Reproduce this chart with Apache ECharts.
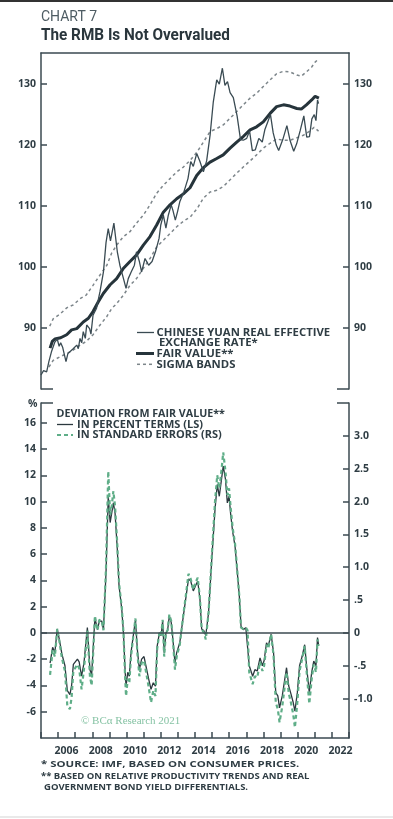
<!DOCTYPE html>
<html><head><meta charset="utf-8">
<script src="https://cdn.jsdelivr.net/npm/echarts@6/dist/echarts.min.js"></script>
<style>html,body{margin:0;padding:0;background:#fff}#c{width:393px;height:819px}</style>
</head><body><div id="c"></div>
<script>
// ---- Top panel: REER, fair value, sigma bands (decimal years) ----
const reerDates = [2005.0,2005.15,2005.33,2005.46,2005.61,2005.81,2005.95,2006.06,2006.15,2006.27,2006.46,2006.57,2006.69,2006.88,2007.09,2007.18,2007.28,2007.38,2007.47,2007.59,2007.67,2007.84,2007.92,2008.04,2008.24,2008.45,2008.65,2008.80,2008.93,2009.06,2009.26,2009.46,2009.61,2009.82,2009.97,2010.10,2010.27,2010.46,2010.58,2010.75,2010.88,2011.08,2011.29,2011.49,2011.69,2011.90,2012.00,2012.15,2012.30,2012.44,2012.61,2012.71,2012.85,2012.98,2013.11,2013.36,2013.59,2013.75,2013.90,2014.10,2014.29,2014.49,2014.68,2014.88,2015.07,2015.27,2015.42,2015.60,2015.75,2015.90,2016.05,2016.24,2016.46,2016.66,2016.82,2017.02,2017.19,2017.35,2017.52,2017.73,2017.93,2018.08,2018.25,2018.41,2018.57,2018.75,2018.89,2019.13,2019.37,2019.56,2019.77,2019.94,2020.15,2020.36,2020.53,2020.69,2020.83,2020.97,2021.07,2021.16,2021.22];
const reerValues = [82.3,83.0,82.8,84.5,86.1,87.7,88.2,87.0,87.6,86.8,84.5,85.8,86.1,86.6,87.2,86.6,88.3,87.6,89.4,88.3,90.5,89.9,89.0,92.1,93.2,96.0,99.2,104.0,106.3,104.3,107.2,102.5,100.3,98.1,96.5,98.1,99.2,100.3,102.5,100.9,99.2,101.4,100.3,100.9,102.5,104.7,106.9,108.5,106.4,108.5,110.2,109.3,107.7,109.1,110.7,112.4,114.5,117.3,116.5,118.6,117.3,115.6,117.4,121.6,127.1,130.7,130.0,132.6,129.8,130.4,128.6,127.8,124.8,120.9,120.8,121.1,122.3,119.1,119.2,121.1,120.5,122.5,123.8,125.0,122.0,120.0,119.1,120.9,123.2,120.7,119.0,120.2,122.4,124.8,121.3,121.4,124.3,125.0,124.0,127.4,126.8];

const fairDates = [2005.53,2005.66,2005.81,2006.15,2006.50,2006.79,2007.09,2007.47,2007.77,2008.04,2008.35,2008.65,2009.04,2009.42,2009.82,2010.20,2010.59,2010.98,2011.37,2011.76,2012.15,2012.54,2012.93,2013.32,2013.71,2014.10,2014.49,2014.88,2015.27,2015.65,2016.05,2016.44,2016.82,2017.22,2017.60,2017.99,2018.39,2018.77,2019.17,2019.55,2019.95,2020.21,2020.51,2020.82,2021.02,2021.24];
const fairValues = [86.7,87.8,88.2,88.4,88.9,89.7,89.9,91.0,91.6,92.7,94.3,95.7,97.1,98.1,99.8,100.9,102.0,103.6,105.0,106.9,109.0,110.2,111.2,112.0,113.0,115.0,116.3,117.2,117.8,118.4,119.5,120.5,121.4,122.5,123.0,123.8,125.2,126.3,126.6,126.4,126.0,125.9,126.6,127.4,128.0,127.7];

const upperDates = [2005.51,2005.71,2006.12,2006.50,2006.89,2007.28,2007.64,2008.04,2008.45,2008.85,2009.13,2009.42,2009.82,2010.20,2010.58,2010.98,2011.37,2011.76,2012.15,2012.54,2012.93,2013.32,2013.72,2014.13,2014.49,2014.88,2015.27,2015.65,2016.05,2016.44,2016.82,2017.22,2017.60,2017.99,2018.39,2018.77,2019.17,2019.55,2019.95,2020.21,2020.51,2020.82,2021.02,2021.17];
const upperValues = [90.3,91.5,92.3,93.3,93.8,94.8,95.4,97.0,98.7,100.3,102.3,103.6,105.0,105.8,107.2,108.5,110.2,112.1,113.4,114.5,115.6,116.4,117.5,118.9,120.5,122.2,122.7,123.3,124.4,125.5,126.6,127.7,128.5,129.6,130.7,131.7,132.1,132.0,131.5,131.3,132.0,132.8,133.6,134.0];

const lowerDates = [2005.46,2005.71,2006.12,2006.50,2006.89,2007.28,2007.64,2008.04,2008.45,2008.85,2009.13,2009.42,2009.82,2010.20,2010.58,2010.98,2011.37,2011.76,2012.15,2012.54,2012.93,2013.32,2013.72,2014.13,2014.49,2014.88,2015.27,2015.65,2016.05,2016.44,2016.82,2017.22,2017.60,2017.99,2018.39,2018.77,2019.17,2019.55,2019.95,2020.33,2020.71,2020.96,2021.22];
const lowerValues = [83.6,84.7,85.3,85.8,86.4,87.2,87.8,88.9,90.5,91.9,93.2,94.0,95.4,97.0,98.1,99.8,101.4,103.3,104.4,105.5,106.6,107.5,108.2,109.6,111.3,112.3,112.6,113.2,114.3,115.4,116.4,117.4,118.4,119.5,120.3,121.0,120.8,120.8,121.2,121.6,122.3,122.9,122.3];

// ---- Bottom panel: deviation from fair value ----
const devDates = [2005.53,2005.68,2005.81,2005.95,2006.07,2006.22,2006.31,2006.40,2006.54,2006.69,2006.79,2006.89,2006.99,2007.13,2007.23,2007.37,2007.51,2007.71,2007.86,2007.96,2008.15,2008.30,2008.41,2008.55,2008.65,2008.80,2008.93,2009.04,2009.13,2009.23,2009.33,2009.46,2009.56,2009.72,2009.82,2009.92,2009.97,2010.07,2010.16,2010.26,2010.39,2010.52,2010.63,2010.75,2010.88,2011.02,2011.13,2011.29,2011.43,2011.56,2011.69,2011.79,2011.92,2012.02,2012.11,2012.20,2012.30,2012.40,2012.50,2012.61,2012.71,2012.83,2012.93,2013.11,2013.32,2013.48,2013.62,2013.75,2013.90,2014.02,2014.16,2014.29,2014.39,2014.53,2014.63,2014.79,2014.98,2015.17,2015.30,2015.42,2015.55,2015.65,2015.78,2015.89,2015.99,2016.08,2016.20,2016.34,2016.46,2016.59,2016.69,2016.82,2016.97,2017.07,2017.17,2017.27,2017.37,2017.50,2017.64,2017.80,2017.94,2018.04,2018.18,2018.28,2018.45,2018.59,2018.72,2018.84,2018.94,2019.10,2019.25,2019.35,2019.48,2019.62,2019.74,2019.84,2019.98,2020.11,2020.26,2020.41,2020.54,2020.68,2020.82,2020.94,2021.07,2021.16,2021.22];
const devPercent = [-2.3,-1.1,-1.5,0.3,-0.5,-1.6,-1.5,-2.5,-4.4,-4.7,-4.0,-2.4,-2.5,-2.0,-2.2,-3.3,-2.3,0.4,-2.8,-3.2,1.15,0.25,0.9,0.9,0.25,4.6,10.4,8.4,9.1,9.9,9.1,6.35,3.6,1.8,0,-3.0,-4.05,-3.0,-3.3,-1.5,-0.25,1.0,-1.25,-2.8,-2.0,-1.8,-2.5,-3.5,-4.3,-3.8,-4.05,-1.0,0,-0.2,0.9,-1.5,0,0.2,1.3,0.8,-0.5,-2.3,-1.5,-0.75,1.3,2.8,4.1,3.95,3.2,3.55,3.95,2.55,0.3,0.15,-0.2,1.5,5.6,9.4,11.3,10.4,11.7,12.7,11.7,9.9,10.4,9.1,7.7,6.6,4.8,2.8,0.5,0.25,0.4,0.25,-2.5,-2.5,-3.3,-2.8,-2.9,-1.9,-2.5,-2.1,-0.75,-1.0,-0.1,-1.5,-4.55,-4.8,-5.7,-4.8,-3.5,-2.65,-4.05,-4.7,-5.3,-5.95,-4.55,-2.5,-1.8,-0.9,-2.8,-4.55,-3.0,-2.15,-2.5,-0.35,-0.9];
const devStdErr = [-0.64,-0.26,-0.36,0.06,-0.12,-0.38,-0.36,-0.58,-1.12,-1.16,-0.98,-0.58,-0.60,-0.48,-0.54,-0.86,-0.56,0.04,-0.66,-0.80,0.26,0.04,0.20,0.18,0.04,1.00,2.46,1.80,1.92,2.16,1.92,1.34,0.76,0.38,0,-0.70,-0.96,-0.70,-0.76,-0.36,-0.06,0.22,-0.30,-0.66,-0.46,-0.42,-0.58,-0.82,-1.06,-0.88,-0.96,-0.24,0,-0.04,0.20,-0.36,0,0.04,0.28,0.18,-0.12,-0.56,-0.36,-0.18,0.28,0.60,0.90,0.82,0.66,0.76,0.84,0.52,0.06,0,-0.10,0.30,1.16,2.00,2.40,2.20,2.48,2.75,2.46,2.10,2.20,1.92,1.60,1.36,0.98,0.56,0.08,0.06,0.08,0.04,-0.60,-0.60,-0.78,-0.66,-0.68,-0.44,-0.58,-0.50,-0.18,-0.24,-0.02,-0.34,-1.06,-1.16,-1.36,-1.12,-0.80,-0.60,-0.92,-1.08,-1.24,-1.44,-1.06,-0.58,-0.40,-0.20,-0.64,-1.08,-0.70,-0.48,-0.60,-0.10,-0.20];

// ---- Tick labels ----
const topTicks = [90, 100, 110, 120, 130];
const devLeftTicks = [-6, -4, -2, 0, 2, 4, 6, 8, 10, 12, 14, 16];
const devRightTicks = [-1, -0.5, 0, 0.5, 1, 1.5, 2, 2.5, 3];
const xLabelYears = [2006, 2008, 2010, 2012, 2014, 2016, 2018, 2020, 2022];

const zip = (xs, ys) => xs.map((x, i) => [x, ys[i]]);

const INK = '#2f3d44';
const AXIS = '#3b4a51';
const GREEN = '#5fae88';
const FONT = '"Open Sans", sans-serif';
const lab = {color: INK, fontFamily: FONT, fontWeight: 700, fontSize: 10.5};

function rightFmt(v) {
  if (v === 0) return '0';
  if (Math.abs(v) < 1) return (v < 0 ? '-' : '') + '.5';
  return v.toFixed(1);
}

const yAx = (grid, pos, min, max, ticks, fmt) => ({
  gridIndex: grid, type: 'value', position: pos, min: min, max: max,
  axisLine: {show: true, onZero: false, lineStyle: {color: AXIS, width: 1.5}},
  axisTick: {show: true, inside: true, length: 6, customValues: ticks, lineStyle: {color: AXIS, width: 1.5}},
  axisLabel: Object.assign({customValues: ticks, margin: 5, formatter: fmt}, lab),
  splitLine: {show: false}
});

const chart = echarts.init(document.getElementById('c'), null, {renderer: 'canvas'});

const legendFont = 'bold 11px ' + FONT;
const noteFont = 'bold 9.5px ' + FONT;

const option = {
  backgroundColor: '#ffffff',
  animation: false,
  grid: [
    {left: 41, top: 53, width: 308, height: 336},
    {left: 41, top: 403, width: 308, height: 335}
  ],
  xAxis: [
    {gridIndex: 0, type: 'value', min: 2005, max: 2023, position: 'top',
     axisLine: {show: true, onZero: false, lineStyle: {color: AXIS, width: 1.5}},
     axisTick: {show: false}, axisLabel: {show: false}, splitLine: {show: false}},
    {gridIndex: 1, type: 'value', min: 2005, max: 2023, interval: 1, position: 'bottom',
     axisLine: {show: true, onZero: false, lineStyle: {color: AXIS, width: 1.5}},
     axisTick: {show: true, inside: true, length: 6, lineStyle: {color: AXIS, width: 1.5}},
     axisLabel: Object.assign({customValues: xLabelYears, margin: 8, padding: [0, 0, 0, 17], formatter: v => String(v)}, lab),
     splitLine: {show: false}}
  ],
  yAxis: [
    yAx(0, 'left', 80, 135.1, topTicks, v => String(v)),
    yAx(0, 'right', 80, 135.1, topTicks, v => String(v)),
    yAx(1, 'left', -8, 17.5, devLeftTicks, v => String(v)),
    yAx(1, 'right', -1.6, 3.5, devRightTicks, rightFmt)
  ],
  series: [
    {name: 'Upper band', type: 'line', xAxisIndex: 0, yAxisIndex: 0, data: zip(upperDates, upperValues),
     showSymbol: false, lineStyle: {color: '#7d868b', width: 1.5, type: [3, 3]}},
    {name: 'Lower band', type: 'line', xAxisIndex: 0, yAxisIndex: 0, data: zip(lowerDates, lowerValues),
     showSymbol: false, lineStyle: {color: '#7d868b', width: 1.5, type: [3, 3]}},
    {name: 'Fair value', type: 'line', xAxisIndex: 0, yAxisIndex: 0, data: zip(fairDates, fairValues),
     showSymbol: false, lineStyle: {color: '#26343b', width: 3}},
    {name: 'REER', type: 'line', xAxisIndex: 0, yAxisIndex: 0, data: zip(reerDates, reerValues),
     showSymbol: false, lineStyle: {color: '#3a4b53', width: 1.3}},
    {name: 'Percent', type: 'line', xAxisIndex: 1, yAxisIndex: 2, data: zip(devDates, devPercent),
     showSymbol: false, lineStyle: {color: '#2b383e', width: 1.3},
     markLine: {silent: true, symbol: 'none', label: {show: false},
       lineStyle: {color: AXIS, width: 1.5, type: 'solid'}, data: [{yAxis: 0}]}},
    {name: 'Std errors', type: 'line', xAxisIndex: 1, yAxisIndex: 3, data: zip(devDates, devStdErr),
     showSymbol: false, lineStyle: {color: GREEN, width: 2.2, type: [4, 3]}}
  ],
  graphic: [
    {type: 'rect', shape: {x: 0, y: 0, width: 393, height: 2}, style: {fill: '#333'}},
    {type: 'line', shape: {x1: 0, y1: 817, x2: 393, y2: 817}, style: {stroke: '#e2e2e2', lineWidth: 1.5}},
    {type: 'text', x: 41, y: 10, style: {text: 'CHART 7', fill: '#4e5c63', font: '14px Roboto, sans-serif'}},
    {type: 'text', x: 41, y: 27, scaleX: 0.9, style: {text: 'The RMB Is Not Overvalued', fill: '#2a363c', font: 'bold 17px Roboto, sans-serif'}},
    // corner stubs
    {type: 'line', shape: {x1: 41, y1: 389, x2: 53, y2: 389}, style: {stroke: AXIS, lineWidth: 1.5}},
    {type: 'line', shape: {x1: 337, y1: 389, x2: 349, y2: 389}, style: {stroke: AXIS, lineWidth: 1.5}},
    {type: 'line', shape: {x1: 41, y1: 403, x2: 53, y2: 403}, style: {stroke: AXIS, lineWidth: 1.5}},
    {type: 'line', shape: {x1: 337, y1: 403, x2: 349, y2: 403}, style: {stroke: AXIS, lineWidth: 1.5}},
    {type: 'text', x: 28, y: 399, style: {text: '%', fill: INK, font: 'bold 10.5px ' + FONT}},
    // top legend
    {type: 'line', shape: {x1: 137, y1: 332.5, x2: 154, y2: 332.5}, style: {stroke: '#3a4b53', lineWidth: 1.3}},
    {type: 'line', shape: {x1: 136, y1: 353.5, x2: 154, y2: 353.5}, style: {stroke: '#26343b', lineWidth: 3}},
    {type: 'line', shape: {x1: 137, y1: 364.3, x2: 154, y2: 364.3}, style: {stroke: '#7d868b', lineWidth: 1.5, lineDash: [3, 3]}},
    {type: 'text', x: 156.5, y: 332.5, scaleX: 1.03, style: {text: 'CHINESE YUAN REAL EFFECTIVE', fill: INK, font: legendFont, verticalAlign: 'middle'}},
    {type: 'text', x: 159, y: 343.3, scaleX: 1.03, style: {text: 'EXCHANGE RATE*', fill: INK, font: legendFont, verticalAlign: 'middle'}},
    {type: 'text', x: 156.5, y: 353.8, scaleX: 1.03, style: {text: 'FAIR VALUE**', fill: INK, font: legendFont, verticalAlign: 'middle'}},
    {type: 'text', x: 156.5, y: 364.5, scaleX: 1.03, style: {text: 'SIGMA BANDS', fill: INK, font: legendFont, verticalAlign: 'middle'}},
    // bottom legend
    {type: 'text', x: 56.5, y: 414, style: {text: 'DEVIATION FROM FAIR VALUE**', fill: INK, font: 'bold 10.7px ' + FONT, verticalAlign: 'middle'}},
    {type: 'line', shape: {x1: 57, y1: 424.5, x2: 73, y2: 424.5}, style: {stroke: '#2b383e', lineWidth: 1.3}},
    {type: 'line', shape: {x1: 57, y1: 435, x2: 73, y2: 435}, style: {stroke: GREEN, lineWidth: 2.2, lineDash: [4, 3]}},
    {type: 'text', x: 77, y: 424.5, style: {text: 'IN PERCENT TERMS (LS)', fill: INK, font: legendFont, verticalAlign: 'middle'}},
    {type: 'text', x: 77, y: 435.3, style: {text: 'IN STANDARD ERRORS (RS)', fill: INK, font: legendFont, verticalAlign: 'middle'}},
    {type: 'text', x: 81, y: 721, style: {text: '© BCα Research 2021', fill: '#86c3a4', font: '11px "Liberation Serif", serif', verticalAlign: 'middle'}},
    // footnotes
    {type: 'text', x: 41, y: 764.5, scaleX: 1.2, style: {text: '* SOURCE: IMF, BASED ON CONSUMER PRICES.', fill: INK, font: noteFont, verticalAlign: 'middle'}},
    {type: 'text', x: 41, y: 776, style: {text: '** BASED ON RELATIVE PRODUCTIVITY TRENDS AND REAL', fill: INK, font: noteFont, verticalAlign: 'middle'}},
    {type: 'text', x: 44, y: 787.3, style: {text: 'GOVERNMENT BOND YIELD DIFFERENTIALS.', fill: INK, font: noteFont, verticalAlign: 'middle'}}
  ]
};
chart.setOption(option);
</script></body></html>
